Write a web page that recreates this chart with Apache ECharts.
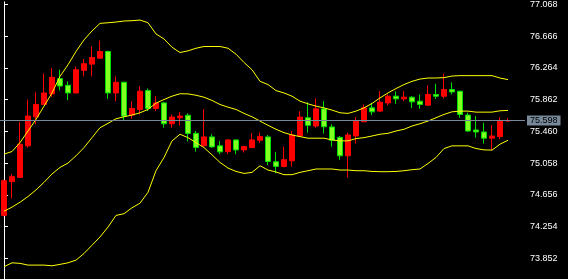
<!DOCTYPE html>
<html>
<head>
<meta charset="utf-8">
<script src="https://cdn.jsdelivr.net/npm/echarts@6/dist/echarts.min.js"></script>
<style>
html,body{margin:0;padding:0;background:#000;}
#chart{width:568px;height:279px;}
</style>
</head>
<body>
<div id="chart"></div>
<script>
// Candle data (index order, oldest first)
const opens  = [74.397,74.825,74.879,75.278,75.646,75.802,75.936,76.129,76.045,75.948,
                76.234,76.313,76.388,76.473,75.948,76.083,75.668,75.739,75.978,75.752,
                75.822,75.558,75.634,75.665,75.437,75.278,75.391,75.278,75.206,75.353,
                75.227,75.256,75.349,75.391,75.076,75.017,75.089,75.403,75.634,75.529,
                75.747,75.517,75.385,75.152,75.403,75.583,75.759,75.718,75.822,75.907,
                75.873,75.894,75.844,75.793,75.928,75.907,75.991,75.970,75.668,75.479,
                75.454,75.375,75.395,75.595];
const closes = [74.837,74.888,75.299,75.655,75.802,75.948,76.146,76.036,75.948,76.242,
                76.318,76.397,76.473,75.948,76.083,75.655,75.752,75.970,75.752,75.822,
                75.558,75.642,75.655,75.435,75.256,75.391,75.265,75.202,75.353,75.227,
                75.269,75.353,75.395,75.080,75.017,75.102,75.416,75.642,75.538,75.747,
                75.520,75.349,75.152,75.416,75.592,75.759,75.709,75.831,75.907,75.873,
                75.894,75.835,75.802,75.928,75.907,75.991,75.961,75.676,75.466,75.454,
                75.375,75.403,75.592,75.598];
const lows   = [74.384,74.611,74.870,75.256,75.551,75.795,75.898,75.982,75.856,75.945,
                76.158,76.158,76.385,75.873,75.844,75.601,75.621,75.676,75.718,75.718,
                75.508,75.508,75.536,75.334,75.206,75.272,75.256,75.173,75.173,75.173,
                75.193,75.250,75.319,75.035,74.929,75.005,75.017,75.397,75.445,75.508,
                75.432,75.269,75.102,74.879,75.307,75.578,75.668,75.709,75.793,75.810,
                75.844,75.759,75.747,75.781,75.873,75.878,75.928,75.634,75.454,75.382,
                75.307,75.227,75.362,75.580];
const highs  = [74.850,74.922,75.580,75.865,75.957,76.196,76.263,76.242,76.095,76.284,
                76.378,76.536,76.611,76.485,76.158,76.090,75.844,76.032,76.004,75.907,
                75.835,75.674,75.705,75.689,75.466,75.743,75.425,75.341,75.360,75.360,
                75.278,75.441,75.445,75.416,75.202,75.269,75.466,75.718,75.831,75.878,
                75.844,75.551,75.403,75.445,75.642,75.802,75.822,75.970,75.928,75.970,
                75.970,75.907,75.928,76.045,76.066,76.192,76.083,75.975,75.697,75.655,
                75.571,75.542,75.642,75.626];

// Bollinger bands
const upperBand  = [75.173,75.206,75.319,75.466,75.613,75.781,75.948,76.158,76.305,76.473,
                    76.620,76.733,76.829,76.837,76.846,76.859,76.863,76.871,76.837,76.695,
                    76.632,76.527,76.460,76.481,76.514,76.536,76.536,76.536,76.514,76.439,
                    76.334,76.242,76.095,76.054,75.978,75.948,75.907,75.844,75.810,75.781,
                    75.759,75.731,75.697,75.689,75.718,75.759,75.815,75.885,75.948,76.004,
                    76.054,76.095,76.124,76.137,76.137,76.142,76.162,76.167,76.167,76.167,
                    76.167,76.167,76.137,76.117];
const middleBand = [74.451,74.502,74.564,74.636,74.720,74.816,74.922,75.005,75.060,75.152,
                    75.256,75.382,75.508,75.563,75.621,75.646,75.668,75.697,75.739,75.819,
                    75.865,75.907,75.938,75.936,75.919,75.894,75.853,75.802,75.768,75.739,
                    75.689,75.646,75.592,75.538,75.488,75.445,75.416,75.395,75.375,75.375,
                    75.375,75.353,75.341,75.341,75.370,75.382,75.403,75.425,75.437,75.466,
                    75.488,75.529,75.558,75.592,75.634,75.676,75.709,75.718,75.718,75.705,
                    75.705,75.705,75.722,75.727];
const lowerBand  = [73.747,73.797,73.790,73.768,73.768,73.768,73.759,73.777,73.797,73.831,
                    73.915,74.020,74.124,74.250,74.397,74.419,74.494,74.552,74.690,74.963,
                    75.131,75.341,75.425,75.382,75.319,75.256,75.164,75.068,74.997,74.954,
                    74.929,74.942,75.026,74.972,74.947,74.913,74.913,74.942,74.963,74.985,
                    74.985,74.985,74.972,74.972,74.963,74.963,74.954,74.951,74.951,74.954,
                    74.963,74.976,74.985,75.055,75.131,75.244,75.278,75.278,75.278,75.244,
                    75.227,75.224,75.299,75.349];

// Price axis tick labels
const priceTicks = [73.852,74.254,74.656,75.058,75.460,75.862,76.264,76.666,77.068];
const lastPrice = 75.598;

const candleData = opens.map((o, i) => [i, o, closes[i], lows[i], highs[i]]);
const toLine = arr => arr.map((v, i) => [i, v]);

const chart = echarts.init(document.getElementById('chart'), null, {renderer: 'canvas'});
const font = 'Liberation Sans, Arial, sans-serif';
const bandStyle = {color: '#ffff00', width: 1};

chart.setOption({
  backgroundColor: '#000000',
  animation: false,
  grid: {left: 0, right: 43, top: 0, bottom: 0},
  xAxis: {type: 'value', min: -0.5, max: 65.125, show: false},
  yAxis: {
    type: 'value',
    position: 'right',
    min: 73.592,
    max: 77.1016,
    axisLine: {show: true, lineStyle: {color: '#ffffff', width: 1}},
    axisTick: {show: true, length: 4, lineStyle: {color: '#ffffff'}, customValues: priceTicks},
    axisLabel: {show: true, customValues: priceTicks, color: '#ffffff', fontSize: 9,
                fontFamily: font, margin: 5, formatter: v => v.toFixed(3)},
    splitLine: {show: false}
  },
  series: [
    {
      type: 'candlestick',
      data: candleData,
      barWidth: 5,
      itemStyle: {color: '#ff0000', color0: '#80ff20', borderColor: '#ff0000',
                  borderColor0: '#00e000', borderWidth: 1},
      markLine: {
        symbol: ['none', 'none'],
        silent: true,
        animation: false,
        data: [{yAxis: lastPrice}],
        lineStyle: {color: '#778899', width: 1, type: 'solid'},
        label: {show: true, position: 'end', distance: 2, formatter: lastPrice.toFixed(3),
                backgroundColor: '#778899', color: '#000000', fontSize: 9, fontFamily: font,
                padding: [1, 3, 0, 3]}
      },
      z: 2
    },
    {type: 'line', data: toLine(upperBand), showSymbol: false, lineStyle: bandStyle, z: 3},
    {type: 'line', data: toLine(middleBand), showSymbol: false, lineStyle: bandStyle, z: 3},
    {type: 'line', data: toLine(lowerBand), showSymbol: false, lineStyle: bandStyle, z: 3}
  ]
});
</script>
</body>
</html>
